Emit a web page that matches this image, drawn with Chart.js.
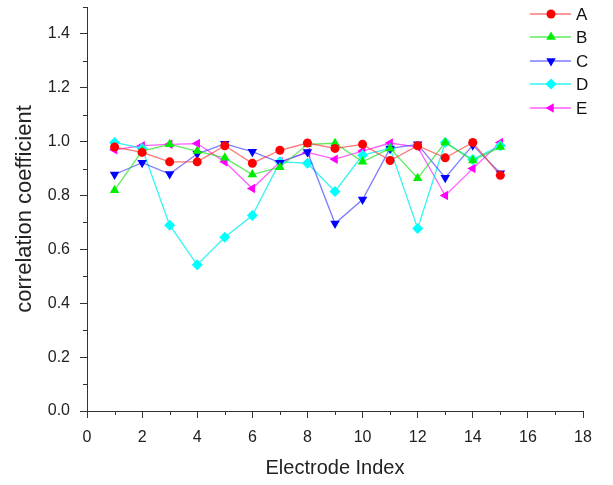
<!DOCTYPE html>
<html>
<head>
<meta charset="utf-8">
<script src="https://cdn.jsdelivr.net/npm/chart.js@4/dist/chart.umd.min.js"></script>
<style>
  html, body { margin: 0; padding: 0; background: #fff; }
  #wrap { width: 613px; height: 485px; position: relative; }
</style>
</head>
<body>
<div id="wrap"><canvas id="corrChart" width="613" height="485"></canvas></div>
<script>
// electrode index 1..15
const electrodes = [1, 2, 3, 4, 5, 6, 7, 8, 9, 10, 11, 12, 13, 14, 15];
const seriesNames = ["A", "B", "C", "D", "E"];
const valuesA = [0.98, 0.96, 0.925, 0.925, 0.985, 0.92, 0.968, 0.995, 0.975, 0.99, 0.93, 0.985, 0.94, 0.997, 0.875];
const valuesB = [0.82, 0.965, 0.99, 0.965, 0.94, 0.878, 0.905, 0.99, 0.994, 0.925, 0.975, 0.864, 0.997, 0.93, 0.98];
const valuesC = [0.878, 0.922, 0.88, 0.955, 0.992, 0.963, 0.922, 0.962, 0.696, 0.785, 0.975, 0.99, 0.866, 0.987, 0.883];
const valuesD = [0.997, 0.975, 0.69, 0.543, 0.645, 0.726, 0.925, 0.92, 0.815, 0.95, 0.975, 0.678, 0.997, 0.934, 0.985];
const valuesE = [0.97, 0.985, 0.99, 0.993, 0.925, 0.826, 0.925, 0.96, 0.935, 0.965, 0.995, 0.98, 0.8, 0.9, 0.997];
const xTicks = [0, 2, 4, 6, 8, 10, 12, 14, 16, 18];
const yTicks = [0, 0.2, 0.4, 0.6, 0.8, 1.0, 1.2, 1.4];

const styles = [
    { color: "#ff0000", line: "rgba(255,60,60,0.7)", shape: "circle", rot: 0, r: 4.5 },
    { color: "#00ee00", line: "rgba(40,230,40,0.75)", shape: "triangle", rot: 0, r: 5.5 },
    { color: "#0000ff", line: "rgba(70,70,255,0.7)", shape: "triangle", rot: 180, r: 5.5 },
    { color: "#00ffff", line: "rgba(0,240,240,0.8)", shape: "rectRot", rot: 0, r: 5.5 },
    { color: "#ff00ff", line: "rgba(255,40,255,0.75)", shape: "triangle", rot: 270, r: 5.5 }
];
const allValues = [valuesA, valuesB, valuesC, valuesD, valuesE];

const datasets = allValues.map((vals, i) => ({
    label: seriesNames[i],
    data: vals.map((v, k) => ({ x: electrodes[k], y: v })),
    borderColor: styles[i].line,
    backgroundColor: styles[i].color,
    borderWidth: 1.3,
    pointStyle: styles[i].shape,
    rotation: styles[i].rot,
    pointRadius: styles[i].r,
    pointBorderWidth: 0,
    pointBackgroundColor: styles[i].color,
    tension: 0
}));

const axisColor = "#333";
const labelFont = { family: "'Liberation Sans', Arial, sans-serif", size: 16 };

// short minor ticks + the line/marker legend in the top right
const extras = {
    id: "extras",
    afterDraw(c) {
        const ctx = c.ctx;
        const xs = c.scales.x, ys = c.scales.y;
        ctx.save();
        ctx.strokeStyle = axisColor;
        ctx.lineWidth = 1;
        ctx.beginPath();
        for (let v = 1; v < 18; v += 2) {
            const px = Math.round(xs.getPixelForValue(v)) + 0.5;
            ctx.moveTo(px, ys.bottom);
            ctx.lineTo(px, ys.bottom + 4);
        }
        for (let v = 0.1; v < 1.55; v += 0.2) {
            const py = Math.round(ys.getPixelForValue(v)) + 0.5;
            ctx.moveTo(xs.left, py);
            ctx.lineTo(xs.left - 4, py);
        }
        ctx.stroke();

        // legend
        const rowY = [14, 37, 61, 84, 108];
        ctx.font = "17px 'Liberation Sans', Arial, sans-serif";
        ctx.textBaseline = "middle";
        ctx.fillStyle = "#111";
        c.data.datasets.forEach((ds, i) => {
            const y = rowY[i];
            ctx.strokeStyle = ds.borderColor;
            ctx.lineWidth = 1.3;
            ctx.beginPath();
            ctx.moveTo(530, y);
            ctx.lineTo(571, y);
            ctx.stroke();
            ctx.fillStyle = ds.pointBackgroundColor;
            Chart.helpers.drawPoint(ctx, {
                pointStyle: ds.pointStyle, rotation: ds.rotation,
                radius: ds.pointRadius, borderWidth: 0
            }, 551, y);
            ctx.fillStyle = "#111";
            ctx.fillText(ds.label, 576, y + 1);
        });
        ctx.restore();
    }
};

new Chart(document.getElementById("corrChart"), {
    type: "line",
    data: { datasets },
    plugins: [extras],
    options: {
        responsive: false,
        animation: false,
        layout: { padding: { top: 7, right: 30, left: 0, bottom: 0 } },
        plugins: { legend: { display: false }, tooltip: { enabled: false } },
        scales: {
            x: {
                type: "linear",
                min: 0, max: 18,
                afterFit: s => { s.height = 74; },
                afterBuildTicks: s => { s.ticks = xTicks.map(v => ({ value: v })); },
                grid: { drawOnChartArea: false, tickLength: 7, color: axisColor },
                border: { color: axisColor, width: 1 },
                ticks: { font: labelFont, color: "#222", padding: 10, maxRotation: 0 },
                title: {
                    display: true, text: "Electrode Index", color: "#222",
                    font: { family: "'Liberation Sans', Arial, sans-serif", size: 20 },
                    padding: { top: 0, bottom: 5 }
                }
            },
            y: {
                type: "linear",
                min: 0, max: 1.5,
                afterFit: s => { s.width = 87; s.paddingTop = 0; s.paddingBottom = 0; },
                afterBuildTicks: s => { s.ticks = yTicks.map(v => ({ value: v })); },
                grid: { drawOnChartArea: false, tickLength: 7, color: axisColor },
                border: { color: axisColor, width: 1 },
                ticks: { font: labelFont, color: "#222", padding: 10, callback: v => v.toFixed(1) },
                title: {
                    display: true, text: "correlation coefficient", color: "#222",
                    font: { family: "'Liberation Sans', Arial, sans-serif", size: 22 },
                    padding: { top: 12, bottom: 0 }
                }
            }
        }
    }
});
</script>
</body>
</html>
